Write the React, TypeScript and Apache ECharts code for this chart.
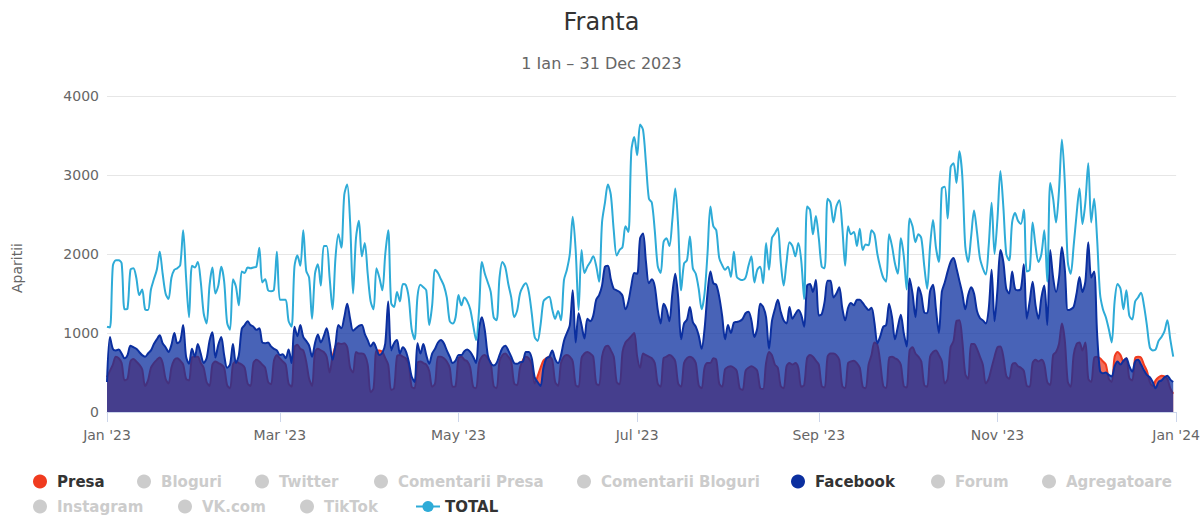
import React, { useEffect, useRef } from "react";
import * as echarts from "echarts";

// ---- data (daily, 1 Jan 2023 .. 31 Dec 2023) ----
const presa = [
  440, 520, 600, 700, 680, 620, 400, 420, 640, 670,
  640, 600, 540, 330, 400, 560, 620, 660, 690, 620,
  420, 360, 560, 660, 680, 650, 600, 420, 400, 690,
  700, 700, 620, 560, 380, 330, 600, 640, 620, 600,
  560, 340, 300, 600, 640, 620, 600, 560, 360, 330,
  620, 660, 640, 600, 560, 380, 350, 650, 720, 680,
  640, 600, 360, 320, 820, 850, 800, 780, 640, 420,
  330, 760, 800, 780, 760, 700, 500, 700, 830, 870,
  860, 870, 820, 560, 500, 760, 740, 740, 720, 600,
  250, 300, 780, 780, 760, 680, 600, 280, 300, 700,
  720, 700, 680, 600, 320, 300, 620, 640, 620, 600,
  520, 320, 360, 700, 700, 680, 640, 560, 320, 330,
  680, 700, 660, 640, 560, 320, 300, 620, 700, 720,
  680, 620, 330, 300, 640, 720, 740, 700, 640, 360,
  340, 560, 660, 700, 680, 600, 360, 450, 560, 650,
  680, 700, 660, 380, 330, 620, 700, 720, 700, 640,
  340, 320, 680, 740, 760, 740, 700, 360, 340, 700,
  820, 840, 780, 700, 380, 350, 760, 880, 920, 960,
  1000, 700, 560, 740, 720, 700, 680, 620, 360, 320,
  680, 700, 720, 700, 640, 360, 320, 620, 680, 700,
  680, 620, 340, 300, 560, 620, 620, 680, 660, 360,
  320, 540, 570, 580, 560, 520, 300, 280, 520, 560,
  580, 560, 520, 300, 290, 620, 760, 720, 600, 560,
  330, 300, 580, 620, 600, 620, 560, 320, 340, 680,
  720, 700, 650, 600, 330, 310, 700, 740, 740, 720,
  660, 330, 300, 620, 640, 650, 620, 560, 320, 300,
  600, 720, 880, 850, 620, 330, 300, 680, 700, 680,
  660, 600, 330, 310, 780, 820, 740, 700, 640, 340,
  320, 700, 760, 780, 720, 640, 360, 420, 820, 900,
  1150, 1160, 900, 480, 420, 860, 860, 800, 700, 600,
  360, 420, 560, 700, 820, 830, 700, 460, 420, 600,
  620, 580, 560, 520, 330, 320, 620, 660, 640, 660,
  600, 380, 340, 720, 760, 860, 1120, 900, 380, 320,
  720, 860, 880, 780, 880, 420, 380, 680, 700, 680,
  640, 600, 420, 380, 700, 760, 720, 640, 680, 430,
  400, 680, 700, 690, 600, 520, 380, 330, 400, 440,
  460, 450, 420, 300, 230,
];

const facebook = [
  380, 950, 800, 780, 790, 740, 680, 720, 840, 820,
  800, 760, 720, 700, 740, 780, 860, 920, 970, 870,
  820, 760, 850, 1000, 870, 900, 1100, 700, 610, 800,
  700, 860, 740, 620, 680, 900, 1010, 690, 850, 950,
  720, 560, 600, 860, 620, 720, 1050, 1100, 1150, 1100,
  1080, 1040, 1060, 880, 870, 880, 830, 800, 780, 720,
  730, 680, 790, 620, 1080, 960, 1100, 950, 900, 840,
  700, 870, 980, 880, 960, 1060, 880, 660, 850, 1100,
  1060, 1200, 1370, 1180, 1030, 1060, 1090, 1100, 990, 910,
  830, 880, 800, 720, 750, 870, 1400, 780, 870, 910,
  740, 820, 770, 640, 450, 380, 870, 740, 860, 720,
  610, 740, 800, 880, 910, 870, 780, 700, 620, 650,
  720, 720, 770, 790, 760, 700, 620, 1050, 1200, 1030,
  720, 620, 590, 620, 720, 810, 840, 780, 700, 620,
  610, 630, 640, 760, 760, 680, 440, 380, 330, 560,
  680, 700, 780, 670, 620, 720, 900, 1000, 1100, 1540,
  880, 1250, 1100, 930, 1180, 1150, 1220, 1420, 1480, 1600,
  1840, 1850, 1680, 1560, 1540, 1520, 1470, 1300, 1400, 1600,
  1760, 1750, 2200, 2260, 1900, 1630, 1680, 1590, 1300, 1120,
  1370, 1300, 1150, 1500, 1750, 1450, 920, 1120, 1170, 1330,
  1140, 1080, 970, 800, 1050, 1500, 1780, 1630, 1610, 1460,
  1220, 920, 1100, 1000, 1130, 1140, 1150, 1180, 1250, 1270,
  1160, 950, 1060, 1370, 1330, 1200, 800, 1150, 1300, 1420,
  1270, 1160, 1120, 1330, 1180, 1240, 1290, 1230, 1080, 1600,
  1620, 1520, 1670, 1220, 1240, 1400, 1660, 1660, 1450, 1500,
  1580, 1320, 1160, 1320, 1380, 1350, 1420, 1420, 1380, 1330,
  1290, 1320, 1130, 870, 960, 1080, 1100, 1370, 1200, 920,
  1080, 1230, 1000, 830, 1690, 1500, 1200, 1580, 1480, 1260,
  1250, 1530, 1610, 1300, 1000, 1520, 1640, 1780, 1900, 1950,
  1820, 1660, 1500, 1300, 1480, 1580, 1500, 1280, 1190, 1160,
  1120, 1300, 1800, 1150, 1550, 2050, 1900, 1560, 1500, 1780,
  1560, 1540, 1560, 1870, 1180, 1400, 1650, 1350, 1180, 1450,
  1600, 1100, 2050, 1700, 1520, 1700, 2090, 1800, 1290, 1300,
  1330, 1500, 1710, 1520, 1650, 2150, 1700, 1780, 1000, 520,
  490, 500, 470, 450, 580, 640, 600, 650, 680, 580,
  510, 640, 660, 600, 530, 470, 440, 380, 300, 380,
  400, 440, 460, 410, 380,
];

const total = [
  1080, 1070, 1850, 1920, 1920, 1880, 1300, 1310, 1800, 1820,
  1700, 1480, 1550, 1300, 1290, 1550, 1680, 1800, 2030, 1750,
  1500, 1430, 1700, 1800, 1820, 1860, 2300, 1700, 1200, 1850,
  1830, 1900, 1650, 1250, 1120, 1600, 1830, 1500, 1600, 1840,
  1650, 1130, 1040, 1680, 1590, 1350, 1780, 1760, 1830, 1820,
  1830, 1840, 2080, 1640, 1680, 1540, 1530, 1550, 2030, 1420,
  1420, 1420, 1150, 1080, 1840, 1980, 1850, 2300, 1790, 1700,
  1180, 1750, 1870, 1600, 2100, 2100, 1700, 1300, 1950, 2250,
  2080, 2750, 2880, 2400, 1500, 2200, 2420, 1970, 2140, 1750,
  1400, 1300, 1820, 1700, 1540, 2000, 2300, 1380, 1330, 1520,
  1400, 1620, 1610, 1450, 1050, 920, 1460, 1610, 1580, 1540,
  1100, 1350, 1800, 1760, 1680, 1600, 1450, 1150, 1120, 1200,
  1480, 1350, 1450, 1400, 1300, 1100, 910, 1280, 1900, 1750,
  1640, 1520, 1200, 1160, 1700, 1900, 1830, 1620, 1450, 1200,
  1280, 1500, 1590, 1630, 1520, 1250, 950, 900, 1100, 1400,
  1440, 1460, 1300, 1180, 1280, 1160, 1670, 1800, 2000, 2470,
  2050, 1290, 2050, 1760, 1840, 1900, 1970, 1850, 1650, 2400,
  2650, 2880, 2750, 2300, 1980, 2050, 2090, 2350, 2280, 3300,
  3480, 3250, 3640, 3570, 3150, 2700, 2650, 2300, 1850, 1760,
  2150, 2200, 2100, 2430, 2830, 2350, 1540, 1880, 1920, 2220,
  1820, 1750, 1560, 1300, 1500, 2000, 2600, 2350, 2300, 1950,
  1860, 1800, 1840, 1710, 2030, 1710, 1680, 1670, 1700, 1850,
  1970, 1640, 1800, 1840, 1630, 2140, 1800, 2200, 2260, 2330,
  1900, 1600, 1900, 2150, 2100, 1970, 2140, 1920, 1430, 2600,
  2560, 2250, 2480, 2200, 1840, 1820, 2700, 2650, 2400, 2600,
  2680, 2350, 1850, 2350, 2250, 2280, 2100, 2320, 2050, 2120,
  2110, 2300, 2250, 2000, 1830, 1700, 1650, 2250, 2100, 1880,
  1750, 2200, 1980, 1550, 2450, 2350, 2150, 2250, 2200, 1850,
  1560, 2100, 2430, 2080, 1900, 2830, 2850, 2450, 3100, 3150,
  2900, 3300, 2980, 2100, 1900, 2220, 2550, 2280, 1950, 1820,
  1740, 2100, 2650, 2000, 2450, 3050, 2600, 2000, 1920, 2400,
  2520, 2420, 2380, 2560, 1780, 1800, 2400, 2100, 1900, 2000,
  2300, 1650, 2900, 2700, 2400, 2800, 3450, 2900, 1900, 1750,
  2100, 2500, 2830, 2380, 2650, 3150, 2400, 2700, 2200, 1500,
  1300, 1200, 1050, 880, 1400, 1620, 1560, 1300, 1540, 1220,
  1170, 1400, 1450, 1510, 1350, 1100, 820, 780, 790, 900,
  950, 1020, 1160, 920, 700,
];

const xTickLabels = ["Jan '23", "Mar '23", "May '23", "Jul '23", "Sep '23", "Nov '23", "Jan '24"];
const xTickMonths = [[2023, 0], [2023, 2], [2023, 4], [2023, 6], [2023, 8], [2023, 10], [2024, 0]];
const yTicks = [0, 1000, 2000, 3000, 4000];

const legendRow1 = ["Presa", "Bloguri", "Twitter", "Comentarii Presa", "Comentarii Bloguri", "Facebook", "Forum", "Agregatoare"];
const legendRow2 = ["Instagram", "VK.com", "TikTok", "TOTAL"];
const inactiveNames = ["Bloguri", "Twitter", "Comentarii Presa", "Comentarii Bloguri", "Forum", "Agregatoare", "Instagram", "VK.com", "TikTok"];

const titleText = "Franta";
const subtitleText = "1 Ian – 31 Dec 2023";
const yAxisTitle = "Aparitii";

// ---- layout / style ----
const RED = "#f03b1f";
const BLUE = "#0b2f9f";
const LIGHT = "#2eabd7";
const FONT = "DejaVu Sans";

const legendLeftRow1 = [33, 137, 255, 374, 577, 791, 931, 1042];
const legendLeftRow2 = [33, 178, 300, 415];
const ROW1_TOP = 474;
const ROW2_TOP = 499;

function dayTime(i: number) {
  return new Date(2023, 0, 1 + i).getTime();
}

export default function App() {
  const ref = useRef<HTMLDivElement>(null);

  useEffect(() => {
    document.body.style.margin = "0";
    document.body.style.overflow = "hidden";
    if (!ref.current) return;
    const chart = echarts.init(ref.current, undefined, { renderer: "svg" });

    const tickTimes = xTickMonths.map(([y, m]) => new Date(y, m, 1).getTime());
    const selected: Record<string, boolean> = {};
    [...legendRow1, ...legendRow2].forEach((n) => {
      selected[n] = inactiveNames.indexOf(n) < 0;
    });

    const mkLegend = (name: string, left: number, top: number) => {
      const l: any = {
        data: [name],
        left,
        top,
        padding: 0,
        itemWidth: 24,
        itemHeight: 14,
        inactiveColor: "#cccccc",
        selected,
        textStyle: { fontFamily: FONT, fontSize: 15, fontWeight: "bold", color: "#333333" },
      };
      if (name !== "TOTAL") l.icon = "circle";
      return l;
    };

    const legends = [
      ...legendRow1.map((n, i) => mkLegend(n, legendLeftRow1[i], ROW1_TOP)),
      ...legendRow2.map((n, i) => mkLegend(n, legendLeftRow2[i], ROW2_TOP)),
    ];

    const areaSeries = (name: string, values: number[], color: string, z: number) => ({
      name,
      type: "line",
      z,
      smooth: 0.3,
      symbol: "circle",
      showSymbol: false,
      data: values.map((v, i) => [dayTime(i), v]),
      lineStyle: { width: 2, color },
      itemStyle: { color },
      areaStyle: { color, opacity: 0.75 },
    });

    const dummies = inactiveNames.map((n) => ({
      name: n,
      type: "line",
      data: [],
      itemStyle: { color: "#cccccc" },
    }));

    chart.setOption({
      animation: false,
      backgroundColor: "#ffffff",
      textStyle: { fontFamily: FONT },
      title: [
        {
          text: titleText,
          left: "center",
          top: 10,
          padding: 0,
          textStyle: { fontFamily: FONT, fontSize: 24, fontWeight: "normal", color: "#333333" },
        },
        {
          text: subtitleText,
          left: "center",
          top: 55,
          padding: 0,
          textStyle: { fontFamily: FONT, fontSize: 16, fontWeight: "normal", color: "#666666" },
        },
      ],
      legend: legends,
      grid: { left: 107, right: 6, top: 96, bottom: 103, containLabel: false },
      xAxis: {
        type: "value",
        min: dayTime(0),
        max: tickTimes[tickTimes.length - 1],
        axisLine: { show: true, lineStyle: { color: "#ccd6eb", width: 1 } },
        axisTick: { show: true, customValues: tickTimes, length: 10, lineStyle: { color: "#ccd6eb" } },
        axisLabel: {
          customValues: tickTimes,
          showMinLabel: true,
          showMaxLabel: true,
          color: "#666666",
          fontSize: 14,
          fontFamily: FONT,
          margin: 16,
          formatter: (v: number) => {
            let best = 0;
            tickTimes.forEach((t, k) => {
              if (Math.abs(t - v) < Math.abs(tickTimes[best] - v)) best = k;
            });
            return xTickLabels[best];
          },
        },
        splitLine: { show: false },
      },
      yAxis: {
        type: "value",
        min: yTicks[0],
        max: yTicks[yTicks.length - 1],
        interval: yTicks[1] - yTicks[0],
        axisLine: { show: false },
        axisTick: { show: false },
        axisLabel: {
          color: "#666666",
          fontSize: 14,
          fontFamily: FONT,
          margin: 8,
          formatter: (v: number) => String(v),
        },
        splitLine: { lineStyle: { color: "#e6e6e6", width: 1 } },
      },
      graphic: [
        {
          type: "text",
          x: 17,
          y: 268,
          rotation: Math.PI / 2,
          style: {
            text: yAxisTitle,
            fill: "#666666",
            font: `14px "${FONT}"`,
            textAlign: "center",
            textVerticalAlign: "middle",
          },
        },
      ],
      series: [
        areaSeries("Presa", presa, RED, 1),
        areaSeries("Facebook", facebook, BLUE, 2),
        {
          name: "TOTAL",
          type: "line",
          z: 3,
          smooth: 0.3,
          symbol: "circle",
          symbolSize: 8,
          showSymbol: false,
          data: total.map((v, i) => [dayTime(i), v]),
          lineStyle: { width: 2, color: LIGHT },
          itemStyle: { color: LIGHT },
        },
        ...dummies,
      ],
    });

    return () => chart.dispose();
  }, []);

  return <div ref={ref} style={{ width: 1203, height: 515 }} />;
}
